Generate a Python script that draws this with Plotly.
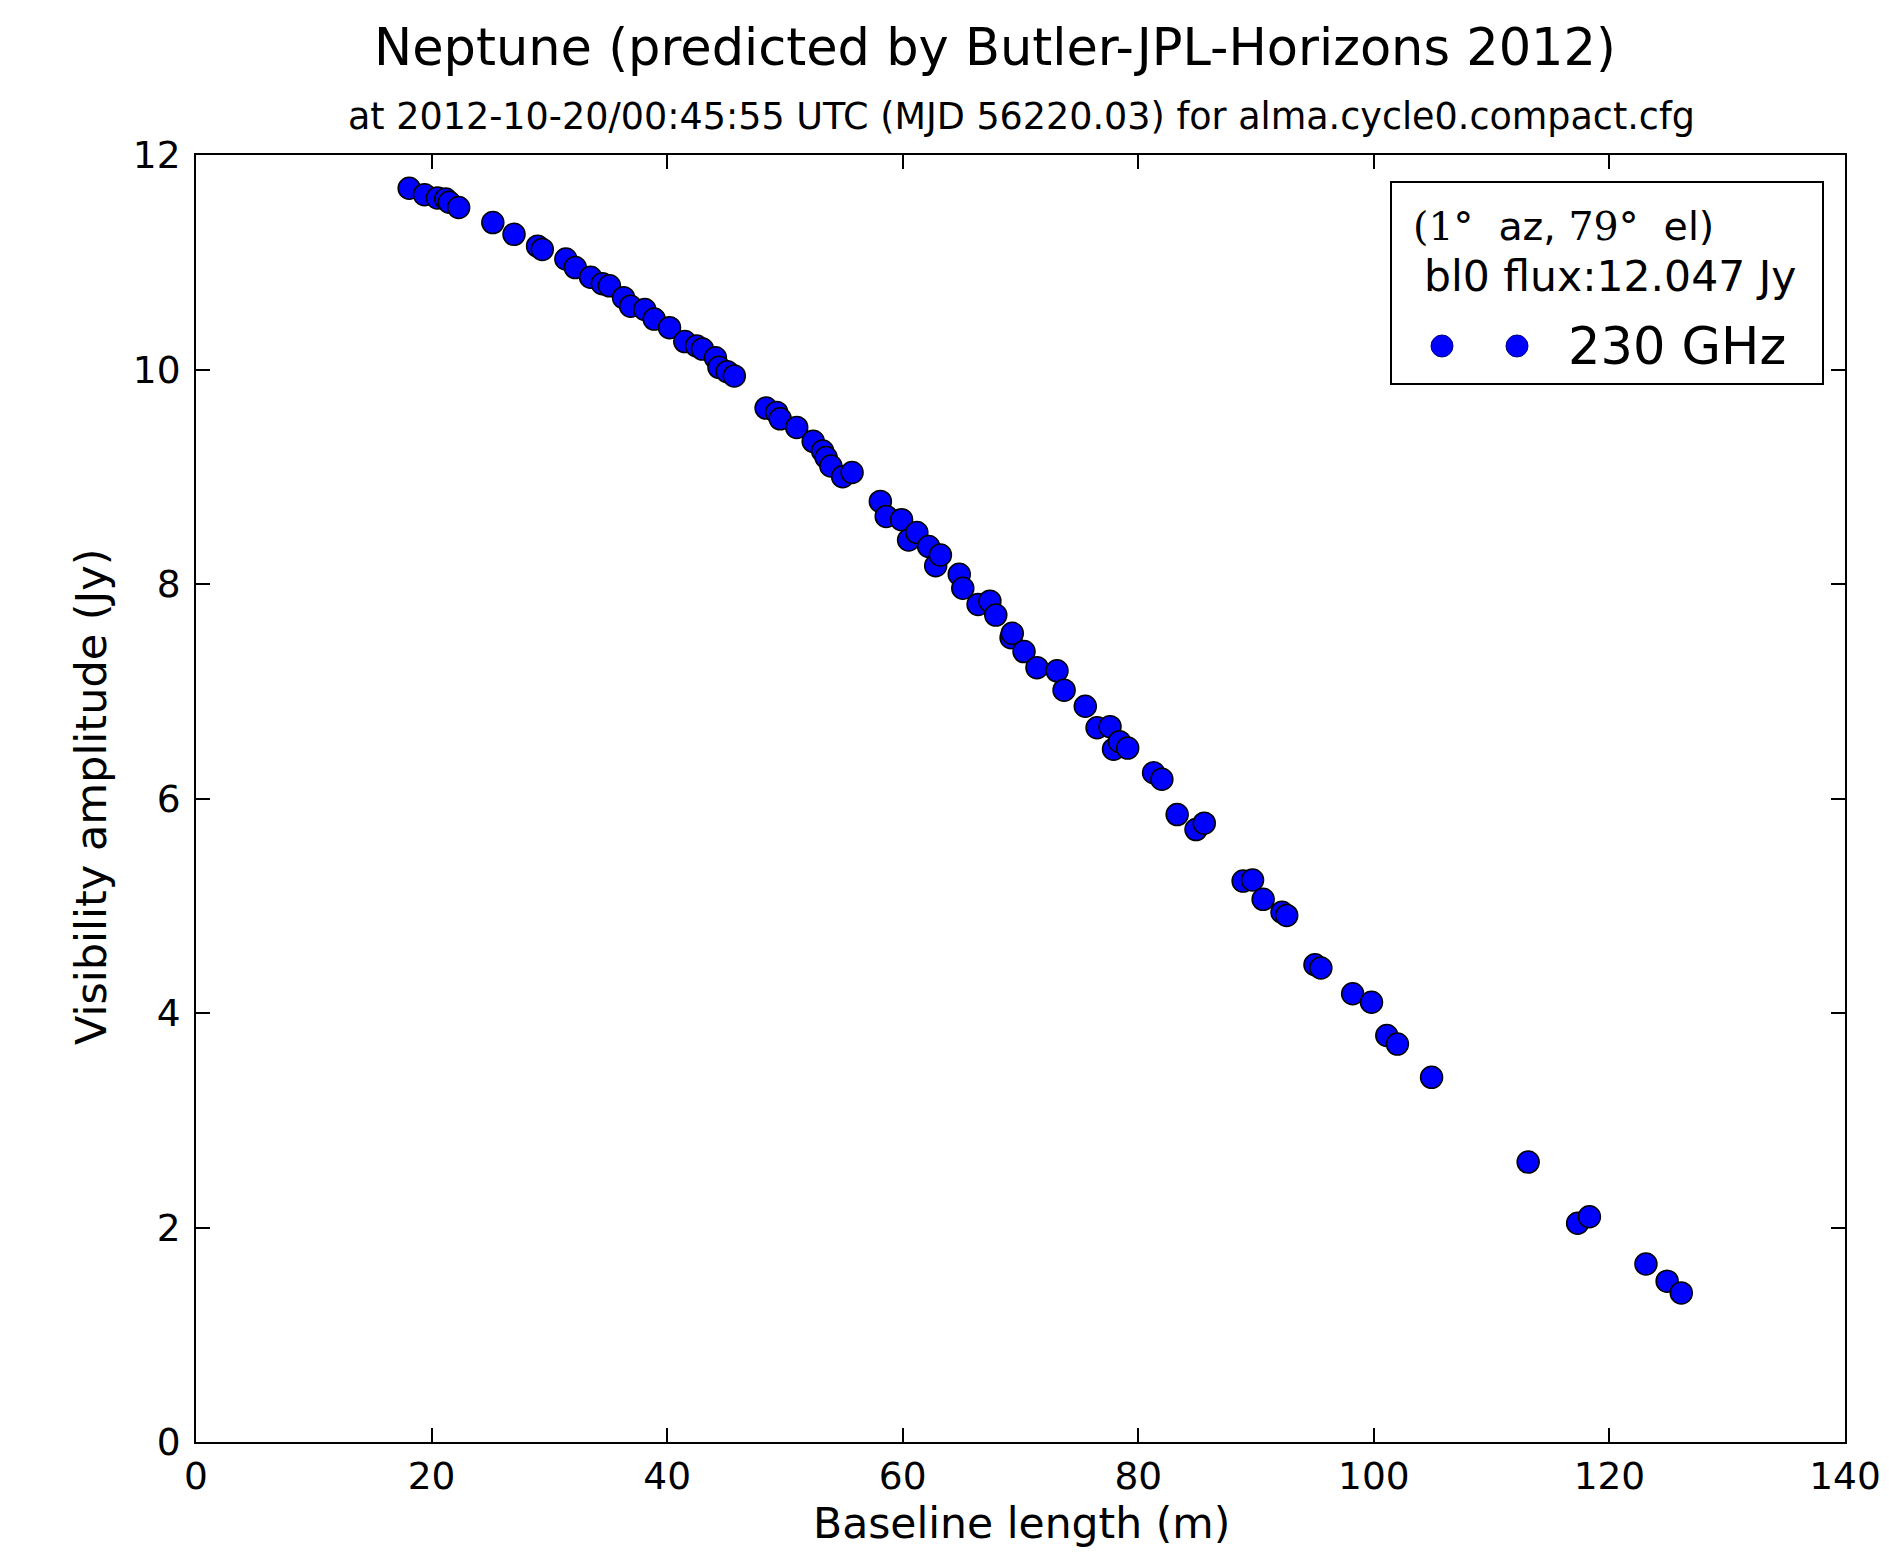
import plotly.graph_objects as go

# ---- data ----
baseline_m = [18.1, 19.4, 20.5, 21.2, 21.5, 22.3, 25.2, 27.0, 29.0, 29.4,
              31.4, 32.2, 33.5, 34.5, 35.1, 36.3, 36.9, 38.1, 38.9, 40.2,
              41.5, 42.5, 43.0, 44.1, 44.4, 45.1, 45.7,
              48.4, 49.3, 49.6, 51.0, 52.4, 53.2, 53.5, 53.9, 54.9, 55.7,
              58.1, 58.6, 59.9, 60.5, 61.2, 62.2, 62.8, 63.2, 64.8, 65.1,
              66.4, 67.4, 67.9, 69.2, 69.3, 70.3, 71.4, 73.1, 73.7, 75.5,
              76.5, 77.6, 77.9, 78.4, 79.1, 81.3, 82.0, 83.3, 84.9, 85.6,
              88.9, 89.7, 90.6, 92.2, 92.6, 95.0, 95.5, 98.2, 99.8, 101.1,
              102.0, 104.9, 113.1, 117.3, 118.3, 123.1, 124.9, 126.1]
amplitude_jy = [11.69, 11.63, 11.60, 11.59, 11.56, 11.51, 11.37, 11.26, 11.15, 11.12,
                11.03, 10.95, 10.86, 10.80, 10.78, 10.67, 10.59, 10.56, 10.47, 10.39,
                10.26, 10.22, 10.19, 10.11, 10.02, 9.98, 9.94,
                9.64, 9.60, 9.54, 9.46, 9.33, 9.24, 9.18, 9.10, 9.00, 9.04,
                8.77, 8.63, 8.60, 8.41, 8.48, 8.35, 8.17, 8.27, 8.09, 7.96,
                7.81, 7.84, 7.71, 7.50, 7.54, 7.37, 7.22, 7.19, 7.01, 6.86,
                6.66, 6.67, 6.46, 6.53, 6.47, 6.24, 6.18, 5.85, 5.71, 5.77,
                5.23, 5.24, 5.06, 4.94, 4.91, 4.45, 4.42, 4.18, 4.10, 3.79,
                3.71, 3.40, 2.61, 2.04, 2.10, 1.66, 1.50, 1.39]

x_ticks = [0, 20, 40, 60, 80, 100, 120, 140]
y_ticks = [0, 2, 4, 6, 8, 10, 12]

title_text = "Neptune (predicted by Butler-JPL-Horizons 2012)"
subtitle_text = "at 2012-10-20/00:45:55 UTC (MJD 56220.03) for alma.cycle0.compact.cfg"
legend_line1 = ('<span style="font-family:DejaVu Serif">(1°</span>  az, '
                '<span style="font-family:DejaVu Serif">79°</span>  el)')
legend_line2 = "bl0 flux:12.047 Jy"
series_name = "230 GHz"

# ---- layout geometry (page pixels; the page body has an 8px margin) ----
PAGE_W, PAGE_H = 1889, 1562
OFF = 8
W, H = PAGE_W - 2 * OFF, PAGE_H - 2 * OFF
L, R, T, B = 196, 1845, 155, 1442     # plot area in page pixels
FONT = "DejaVu Sans"


def px(x):
    return (x - L) / (R - L)


def py(y):
    return (B - y) / (B - T)


fig = go.Figure()
fig.add_trace(go.Scatter(
    x=baseline_m, y=amplitude_jy, mode="markers", name=series_name,
    marker=dict(size=22, color="#0000ff", line=dict(color="black", width=1.5)),
    showlegend=False,
))

axis_common = dict(
    showgrid=False, zeroline=False, showline=True, linecolor="black", linewidth=2,
    mirror="ticks", ticks="inside", ticklen=14, tickwidth=1.5, tickcolor="black",
    tickfont=dict(family=FONT, size=37.5, color="black"), automargin=False,
)
fig.update_xaxes(range=[0, 140], tickvals=x_ticks, ticktext=[str(v) for v in x_ticks],
                 **axis_common)
fig.update_yaxes(range=[0, 12], tickvals=y_ticks, ticktext=[str(v) for v in y_ticks],
                 ticklabelstandoff=6, **axis_common)

annotations = [
    dict(text=title_text, x=px(995), y=py(48), font=dict(size=51)),
    dict(text=subtitle_text, x=px(1021), y=py(117), font=dict(size=36.5)),
    dict(text="Baseline length (m)", x=px(1021), y=py(1523), font=dict(size=42.5)),
    dict(text="Visibility amplitude (Jy)", x=px(91), y=py(797), font=dict(size=43),
         textangle=-90),
    dict(text=legend_line1, x=px(1411), y=py(226), xanchor="left", font=dict(size=39.5)),
    dict(text=legend_line2, x=px(1422), y=py(276), xanchor="left", font=dict(size=42.5)),
    dict(text=series_name, x=px(1566), y=py(346), xanchor="left", font=dict(size=51)),
]
for a in annotations:
    a.setdefault("xanchor", "center")
    a.update(xref="paper", yref="paper", yanchor="middle", showarrow=False)
    a["font"].update(family=FONT, color="black")
fig.update_layout(annotations=annotations)

shapes = [
    dict(type="rect", xref="paper", yref="paper", x0=px(1391), x1=px(1823),
         y0=py(384), y1=py(182), line=dict(color="black", width=2),
         fillcolor="white", layer="above"),
]
for cx in (1442, 1517):
    shapes.append(dict(type="circle", xref="paper", yref="paper",
                       xsizemode="pixel", ysizemode="pixel",
                       xanchor=px(cx), yanchor=py(346),
                       x0=-11, x1=11, y0=-11, y1=11,
                       fillcolor="#0000ff", line=dict(color="#000080", width=1),
                       layer="above"))
fig.update_layout(shapes=shapes)

fig.update_layout(
    width=W, height=H, autosize=False,
    margin=dict(l=L - OFF, r=PAGE_W - OFF - R, t=T - OFF, b=PAGE_H - OFF - B,
                pad=0, autoexpand=False),
    paper_bgcolor="white", plot_bgcolor="white",
    font=dict(family=FONT, color="black"),
)

fig.write_html("out.html", config={"displayModeBar": False})
